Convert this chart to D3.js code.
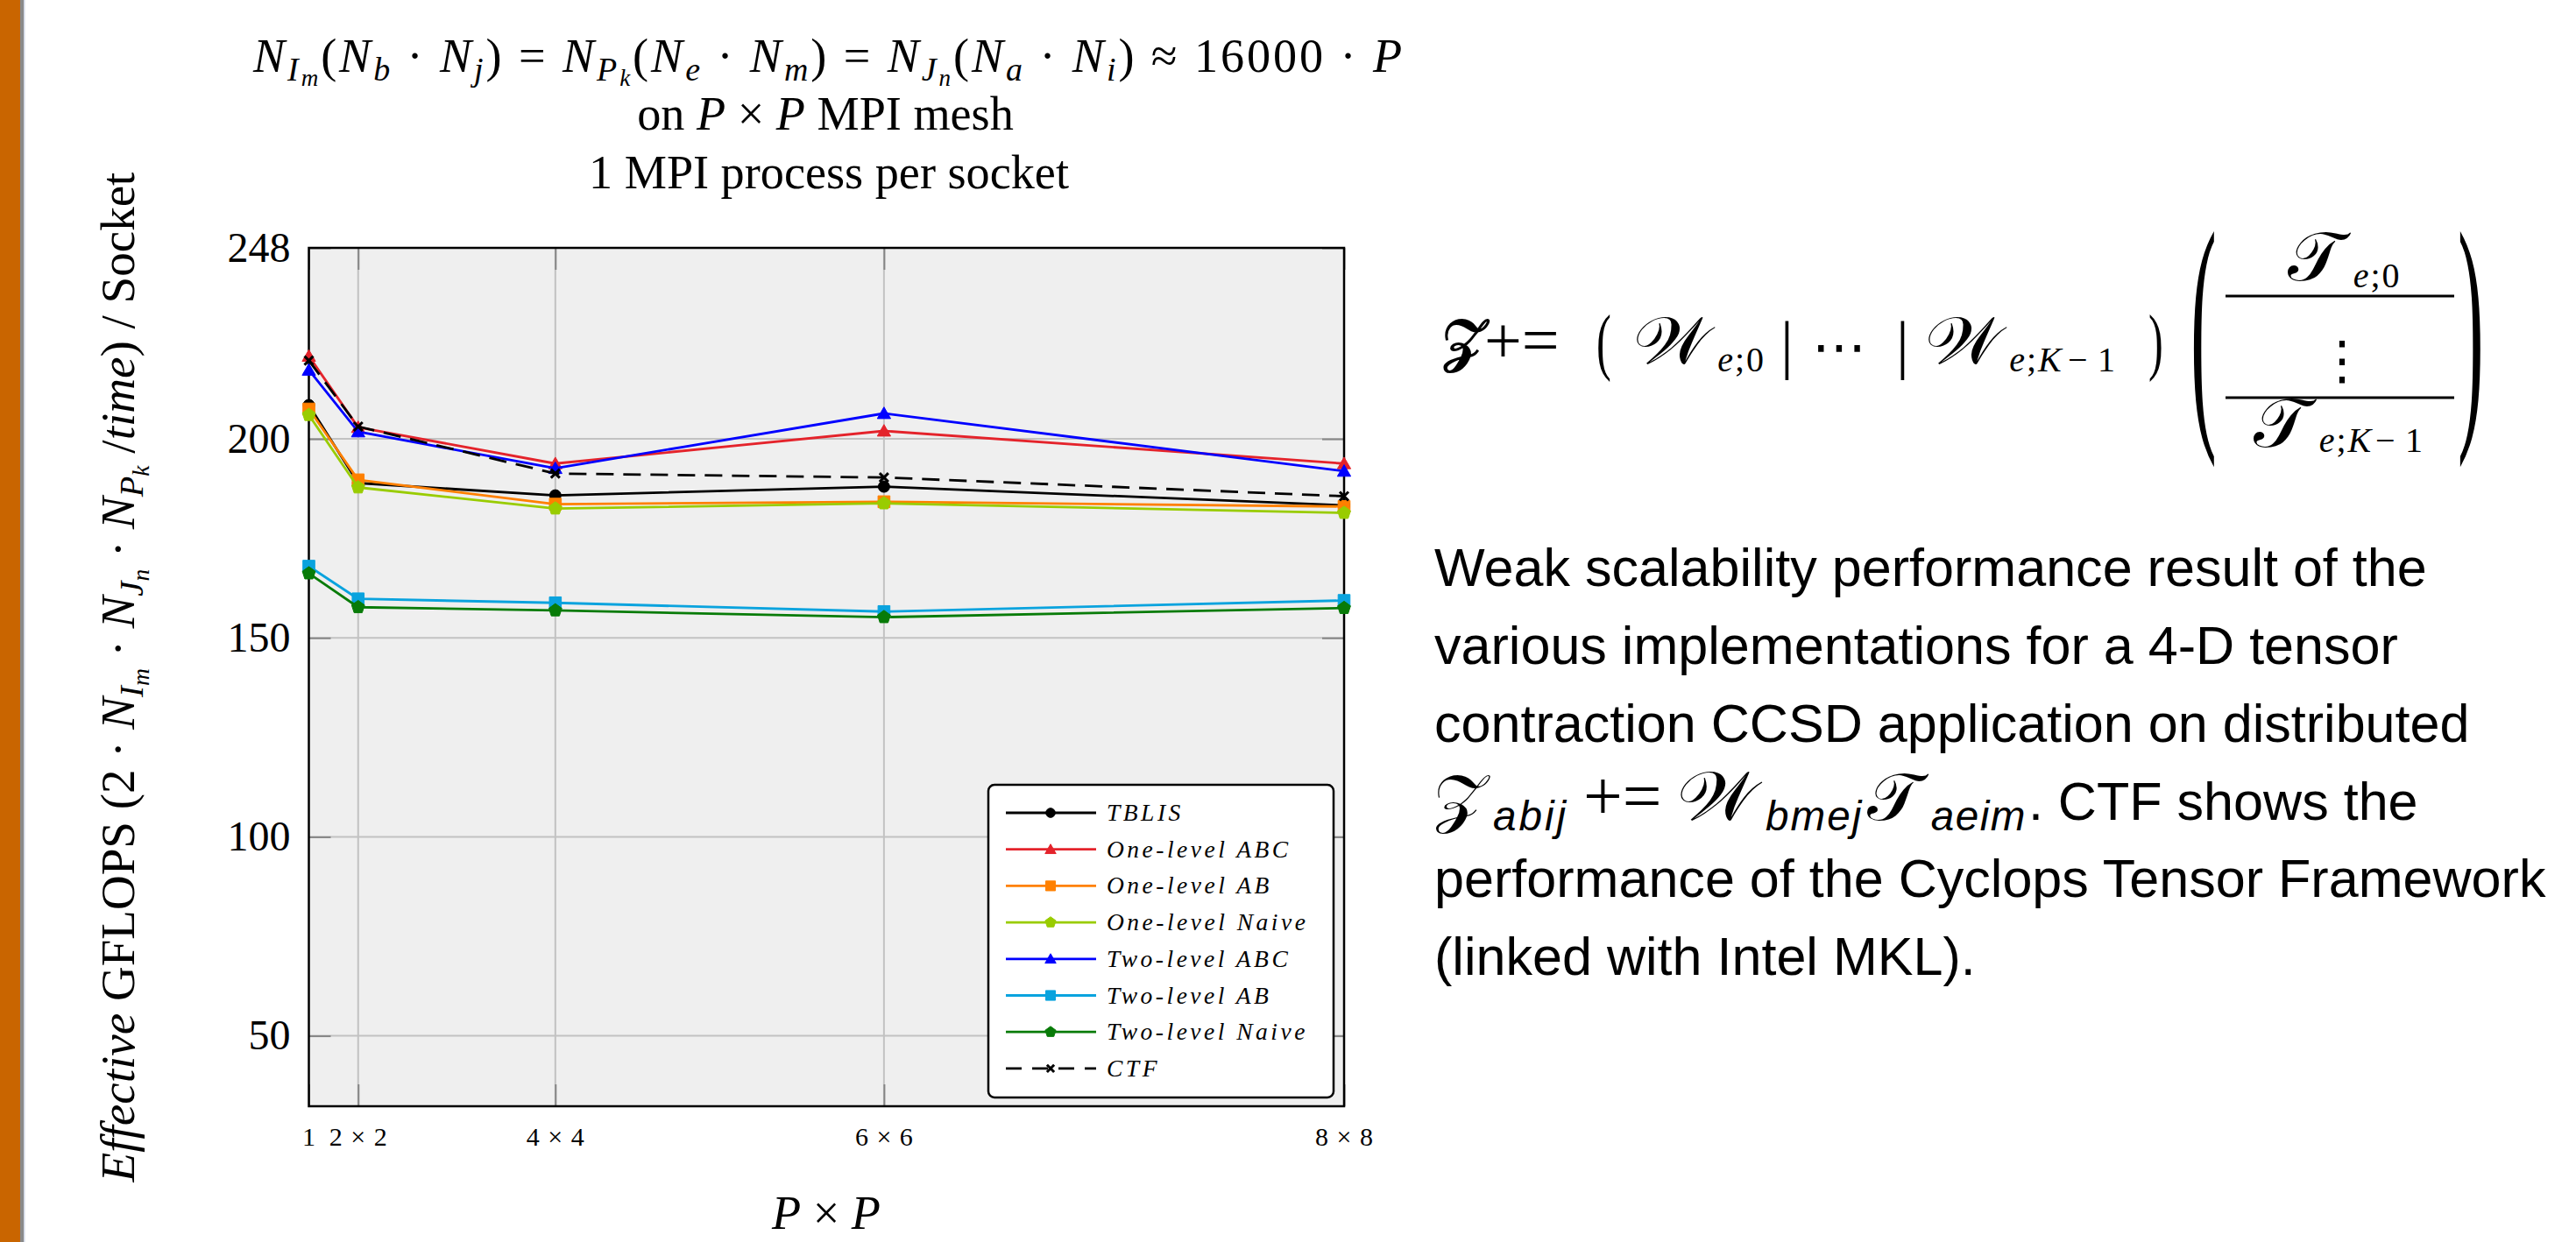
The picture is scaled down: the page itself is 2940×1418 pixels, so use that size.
<!DOCTYPE html>
<html><head><meta charset="utf-8">
<script src="https://cdn.jsdelivr.net/npm/d3@7"></script>
<style>
html,body{margin:0;padding:0;background:#fff;}
svg{display:block;}
text{white-space:pre;}
</style></head><body>
<svg id="chart" width="2940" height="1418"></svg>
<script>
// ---------------- DATA ----------------
const xValues = [1, 4, 16, 36, 64];            // number of MPI processes (P x P)
const xTickLabels = ["1", "2 × 2", "4 × 4", "6 × 6", "8 × 8"];
const yTicks = [50, 100, 150, 200, 248];
const yDomain = [32.3, 248];
const seriesNames = ["TBLIS", "One-level ABC", "One-level AB", "One-level Naive",
                     "Two-level ABC", "Two-level AB", "Two-level Naive", "CTF"];
const tblis         = [208.5, 188.9, 185.8, 188.0, 183.3];
const oneLevelABC   = [220.8, 202.9, 193.8, 202.0, 193.8];
const oneLevelAB    = [207.5, 189.7, 183.6, 184.2, 183.0];
const oneLevelNaive = [206.0, 187.8, 182.5, 183.8, 181.4];
const twoLevelABC   = [217.3, 201.8, 192.6, 206.4, 191.9];
const twoLevelAB    = [168.0, 159.8, 158.8, 156.6, 159.4];
const twoLevelNaive = [166.2, 157.7, 156.9, 155.2, 157.5];
const ctf           = [219.7, 203.1, 191.3, 190.3, 185.6];
const seriesValues = [tblis, oneLevelABC, oneLevelAB, oneLevelNaive, twoLevelABC, twoLevelAB, twoLevelNaive, ctf];
const seriesColors = ["#000000", "#E4232B", "#FF8000", "#99CC00", "#0000FF", "#0AA3DE", "#087B08", "#000000"];
const seriesMarkers = ["circle", "triangle", "square", "pentagon", "triangle", "square", "pentagon", "cross"];
const paragraphLines = ["Weak scalability performance result of the",
                        "various implementations for a 4-D tensor",
                        "contraction CCSD application on distributed",
                        null,
                        "performance of the Cyclops Tensor Framework",
                        "(linked with Intel MKL)."];

// ---------------- SETUP ----------------
const W = 2940, H = 1418;
const SERIF = "'Liberation Serif', 'Times New Roman', serif";
const SANS = "'Liberation Sans', Arial, sans-serif";
const MATH = "'DejaVu Serif', 'DejaVu Sans', 'Noto Sans', serif";
const svg = d3.select("#chart");
svg.append("rect").attr("width", W).attr("height", H).attr("fill", "#fff");

// left slide bar
svg.append("rect").attr("x", 0).attr("y", 0).attr("width", 23).attr("height", H).attr("fill", "#C96500");
svg.append("rect").attr("x", 23).attr("y", 0).attr("width", 4).attr("height", H).attr("fill", "#8a8a8a");
svg.append("rect").attr("x", 27).attr("y", 0).attr("width", 1.5).attr("height", H).attr("fill", "#cfd6e4");

// rich text helper: segs = [text, italic, level, family?]
function buildRich(g, segs, base, family, ls) {
  g.selectAll("tspan").remove();
  let cur = 0;
  segs.forEach(s => {
    const [t, it, lvl, fam] = s;
    const lv = lvl || 0;
    const size = lv === 0 ? 1 : lv === 1 ? 0.7 : 0.5;
    const off = (lv === 0 ? 0 : lv === 1 ? 0.18 : 0.3) * base;
    g.append("tspan")
      .attr("dy", (off - cur).toFixed(2))
      .attr("font-size", (base * size).toFixed(2))
      .attr("font-style", it ? "italic" : "normal")
      .attr("font-family", fam || family)
      .attr("letter-spacing", ls || 0)
      .text(t);
    cur = off;
  });
}
function richText(parent, x, y, segs, base, family, anchor, fitWidth, fitBySpacing) {
  const t = parent.append("text").attr("x", x).attr("y", y)
    .attr("text-anchor", anchor || "start").attr("fill", "#000");
  buildRich(t, segs, base, family, 0);
  if (fitWidth) {
    const w = t.node().getComputedTextLength();
    if (fitBySpacing) {
      const n = segs.reduce((a, s) => a + [...s[0]].length, 0);
      buildRich(t, segs, base, family, ((fitWidth - w) / n).toFixed(2));
    } else {
      const nb = base * fitWidth / w;
      buildRich(t, segs, nb, family, 0);
      t.attr("data-base", nb);
    }
  }
  return t;
}

// ---------------- TITLE ----------------
const titleG = svg.append("g");
const line3 = richText(titleG, 946, 215, [["1 MPI process per socket", false, 0]], 54, SERIF, "middle", 548);
const tBase = +line3.attr("data-base");
richText(titleG, 942, 148, [["on ", false], ["P", true], [" × ", false], ["P", true], [" MPI mesh", false]], tBase, SERIF, "middle");
richText(titleG, 946, 82, [
  ["N", true], ["I", true, 1], ["m", true, 2], ["(", false], ["N", true], ["b", true, 1], [" · ", false], ["N", true], ["j", true, 1],
  [") = ", false], ["N", true], ["P", true, 1], ["k", true, 2], ["(", false], ["N", true], ["e", true, 1], [" · ", false], ["N", true], ["m", true, 1],
  [") = ", false], ["N", true], ["J", true, 1], ["n", true, 2], ["(", false], ["N", true], ["a", true, 1], [" · ", false], ["N", true], ["i", true, 1],
  [") ≈ 16000 · ", false], ["P", true]], tBase, SERIF, "middle", 1314, true);

// ---------------- PLOT ----------------
const plot = {l: 352.5, r: 1534, t: 283, b: 1263};
const x = d3.scaleLinear().domain([xValues[0], xValues[xValues.length - 1]]).range([plot.l, plot.r]);
const y = d3.scaleLinear().domain(yDomain).range([plot.b, plot.t]);

svg.append("rect").attr("x", plot.l).attr("y", plot.t).attr("width", plot.r - plot.l).attr("height", plot.b - plot.t)
  .attr("fill", "#EFEFEF");

// grid
const grid = svg.append("g").attr("stroke", "#C2C2C2").attr("stroke-width", 2);
grid.selectAll("line.v").data(xValues.slice(1, -1)).join("line")
  .attr("x1", d => x(d)).attr("x2", d => x(d)).attr("y1", plot.t).attr("y2", plot.b);
grid.selectAll("line.h").data(yTicks.filter(d => d < yDomain[1])).join("line").attr("class", "h")
  .attr("x1", plot.l).attr("x2", plot.r).attr("y1", d => y(d)).attr("y2", d => y(d));

// axes with inward ticks
const yAxisL = svg.append("g").attr("transform", `translate(${plot.l},0)`)
  .call(d3.axisLeft(y).tickValues(yTicks).tickFormat(d3.format("d")).tickSize(-25).tickPadding(21));
const yAxisR = svg.append("g").attr("transform", `translate(${plot.r},0)`)
  .call(d3.axisRight(y).tickValues(yTicks).tickFormat("").tickSize(-25));
const xAxisB = svg.append("g").attr("transform", `translate(0,${plot.b})`)
  .call(d3.axisBottom(x).tickValues(xValues).tickFormat((d, i) => xTickLabels[i]).tickSize(-25).tickPadding(24));
const xAxisT = svg.append("g").attr("transform", `translate(0,${plot.t})`)
  .call(d3.axisTop(x).tickValues(xValues).tickFormat("").tickSize(-25));
[yAxisL, yAxisR, xAxisB, xAxisT].forEach(a => {
  a.select(".domain").remove();
  a.selectAll(".tick line").attr("stroke", "#858585").attr("stroke-width", 2);
});
yAxisL.selectAll(".tick text").attr("font-family", SERIF).attr("font-size", 48).attr("fill", "#000");
xAxisB.selectAll(".tick text").attr("font-family", SERIF).attr("font-size", 30).attr("letter-spacing", 1).attr("fill", "#000");

// frame
svg.append("rect").attr("x", plot.l).attr("y", plot.t).attr("width", plot.r - plot.l).attr("height", plot.b - plot.t)
  .attr("fill", "none").attr("stroke", "#000").attr("stroke-width", 2.5);

// markers
function markerPath(type, s) {
  const p = d3.path();
  if (type === "circle") { p.moveTo(6.5 * s, 0); p.arc(0, 0, 6.5 * s, 0, 2 * Math.PI); p.closePath(); }
  else if (type === "triangle") {
    const r = 8.8 * s;
    for (let k = 0; k < 3; k++) { const a = -Math.PI / 2 + k * 2 * Math.PI / 3; const px = r * Math.cos(a), py = r * Math.sin(a) + 1.5 * s; k ? p.lineTo(px, py) : p.moveTo(px, py); }
    p.closePath();
  } else if (type === "square") { const h = 6.8 * s; p.rect(-h, -h, 2 * h, 2 * h); }
  else if (type === "pentagon") {
    const r = 7.8 * s;
    for (let k = 0; k < 5; k++) { const a = -Math.PI / 2 + k * 2 * Math.PI / 5; const px = r * Math.cos(a), py = r * Math.sin(a); k ? p.lineTo(px, py) : p.moveTo(px, py); }
    p.closePath();
  } else if (type === "cross") { const h = 5 * s; p.moveTo(-h, -h); p.lineTo(h, h); p.moveTo(-h, h); p.lineTo(h, -h); }
  return p.toString();
}
function drawMarker(g, type, color, s) {
  const m = g.append("path").attr("d", markerPath(type, s));
  if (type === "cross") m.attr("fill", "none").attr("stroke", color).attr("stroke-width", 3);
  else m.attr("fill", color).attr("stroke", color).attr("stroke-width", 1);
  return m;
}

const line = d3.line().x((d, i) => x(xValues[i])).y(d => y(d));
const seriesG = svg.append("g");
seriesValues.forEach((vals, si) => {
  const g = seriesG.append("g");
  g.append("path").attr("d", line(vals)).attr("fill", "none")
    .attr("stroke", seriesColors[si]).attr("stroke-width", 2.8)
    .attr("stroke-linejoin", "round")
    .attr("stroke-dasharray", seriesMarkers[si] === "cross" ? "20,11" : null);
  vals.forEach((v, i) => {
    const mg = g.append("g").attr("transform", `translate(${x(xValues[i])},${y(v)})`);
    drawMarker(mg, seriesMarkers[si], seriesColors[si], 1);
  });
});

// legend
const lg = svg.append("g");
lg.append("rect").attr("x", 1128).attr("y", 896).attr("width", 394).attr("height", 357).attr("rx", 7)
  .attr("fill", "#fff").attr("stroke", "#000").attr("stroke-width", 2.5);
seriesNames.forEach((name, si) => {
  const cy = 928 + si * 41.7;
  const row = lg.append("g");
  row.append("line").attr("x1", 1148).attr("x2", 1251).attr("y1", cy).attr("y2", cy)
    .attr("stroke", seriesColors[si]).attr("stroke-width", 2.8)
    .attr("stroke-dasharray", seriesMarkers[si] === "cross" ? "18,12" : null);
  drawMarker(row.append("g").attr("transform", `translate(1199,${cy})`), seriesMarkers[si], seriesColors[si], 0.82);
  row.append("text").attr("x", 1263).attr("y", cy + 9).attr("font-family", SERIF).attr("font-style", "italic")
    .attr("font-size", 27.5).attr("letter-spacing", 3.5).attr("fill", "#000").text(name);
});

// axis labels
richText(svg, 943, 1403, [["P", true], [" × ", false], ["P", true]], tBase, SERIF, "middle");
const yl = svg.append("g").attr("transform", "translate(153,773) rotate(-90)");
richText(yl, 0, 0, [["Effective", true], [" GFLOPS (2 · ", false], ["N", true], ["I", true, 1], ["m", true, 2],
  [" · ", false], ["N", true], ["J", true, 1], ["n", true, 2], [" · ", false], ["N", true], ["P", true, 1], ["k", true, 2],
  [" /", false], ["time", true], [") / Socket", false]], 52, SERIF, "middle", 1153);

// ---------------- RIGHT SIDE: formula ----------------
const fg = svg.append("g");
function mtext(parent, xp, yp, str, size, opts) {
  opts = opts || {};
  const t = parent.append("text")
    .attr("transform", `translate(${xp},${yp})` + (opts.sx ? ` scale(${opts.sx},1)` : ""))
    .attr("font-size", size)
    .attr("font-family", opts.family || MATH).attr("font-style", opts.italic ? "italic" : "normal")
    .attr("font-weight", opts.bold ? "bold" : "normal").attr("text-anchor", opts.anchor || "start")
    .attr("letter-spacing", opts.ls || 0).attr("fill", "#000").text(str);
  const bb = t.node().getBBox();
  t.right = xp + (bb.x + bb.width) * (opts.sx || 1);
  return t;
}
// place next piece at target x, but never before the end of the previous piece
const nx = (prev, target) => Math.max(target, prev.right + 2);
const SUB = 40;
const subRun = (startX, yp, parts) => {
  let prev = {right: -1e9};
  parts.forEach(([dxTarget, str, it]) => {
    prev = mtext(fg, nx(prev, dxTarget), yp, str, SUB, {family: SERIF, italic: it});
  });
  return prev;
};
// row: Z += ( W_{e;0} | ... | W_{e;K-1} )
mtext(fg, 1646, 411, "𝒵", 66, {bold: true});
mtext(fg, 1694, 414, "+=", 76, {family: SERIF});
mtext(fg, 1822, 418, "(", 84, {family: SERIF, sx: 0.6});
let g1 = mtext(fg, 1864, 415, "𝒲", 76, {sx: 1.1});
subRun(0, 424, [[nx(g1, 1942), "e", true], [1970, ";", false], [1980, "0", false]]);
mtext(fg, 2032, 418, "|", 74, {family: SERIF});
mtext(fg, 2068, 417, "⋯", 62, {family: "'DejaVu Sans', sans-serif"});
mtext(fg, 2164, 418, "|", 74, {family: SERIF});
let g2 = mtext(fg, 2197, 415, "𝒲", 76, {sx: 1.1});
subRun(0, 424, [[nx(g2, 2275), "e", true], [2303, ";", false], [2316, "K", true], [2360, "−", false], [2394, "1", false]]);
mtext(fg, 2452, 418, ")", 84, {family: SERIF, sx: 0.6});
mtext(fg, 2500, 470, "(", 297, {family: SERIF, sx: 0.3});
// column: T_{e;0} / ⋮ / T_{e;K-1}
let g3 = mtext(fg, 2611, 320, "𝒯", 78, {sx: 1.05});
subRun(0, 328, [[nx(g3, 2668), "e", true], [2696, ";", false], [2706, "0", false]]);
fg.append("line").attr("x1", 2540).attr("x2", 2801).attr("y1", 338).attr("y2", 338).attr("stroke", "#000").attr("stroke-width", 3);
mtext(fg, 2673, 432, "⋮", 60, {family: "'DejaVu Sans', sans-serif", anchor: "middle"});
fg.append("line").attr("x1", 2540).attr("x2", 2801).attr("y1", 454).attr("y2", 454).attr("stroke", "#000").attr("stroke-width", 3);
let g4 = mtext(fg, 2572, 510, "𝒯", 78, {sx: 1.05});
subRun(0, 516, [[nx(g4, 2630), "e", true], [2658, ";", false], [2668, "K", true], [2711, "−", false], [2745, "1", false]]);
mtext(fg, 2805, 470, ")", 297, {family: SERIF, sx: 0.3});

// ---------------- RIGHT SIDE: paragraph ----------------
const pg = svg.append("g");
const pBaselines = [669, 758, 847, 936, 1024, 1113];
const p1 = richText(pg, 1637, pBaselines[0], [[paragraphLines[0], false]], 58, SANS, "start", 1133);
const pBase = +p1.attr("data-base");
paragraphLines.forEach((ln, i) => {
  if (i === 0) return;
  if (ln !== null) { richText(pg, 1637, pBaselines[i], [[ln, false]], pBase, SANS, "start"); return; }
  const yb = pBaselines[i];
  const sb = pBase * 0.78;
  let a = mtext(pg, 1636, yb, "𝒵", pBase * 1.2, {sx: 1.1});
  a = mtext(pg, nx(a, 1703), yb + 12, "abij", sb, {family: SANS, italic: true, ls: 3});
  a = mtext(pg, nx(a, 1807), yb, "+=", pBase * 1.3, {family: SERIF});
  a = mtext(pg, nx(a, 1914), yb, "𝒲", pBase * 1.3, {sx: 1.1});
  a = mtext(pg, nx(a, 2015), yb + 12, "bmej", sb, {family: SANS, italic: true, ls: 2});
  a = mtext(pg, nx(a, 2131), yb, "𝒯", pBase * 1.25, {sx: 1.05});
  a = mtext(pg, nx(a, 2198), yb + 12, "aeim", sb, {family: SANS, italic: true, ls: 1.5});
  mtext(pg, nx(a, 2310), yb, ". CTF shows the", pBase, {family: SANS});
});
</script>
</body></html>
